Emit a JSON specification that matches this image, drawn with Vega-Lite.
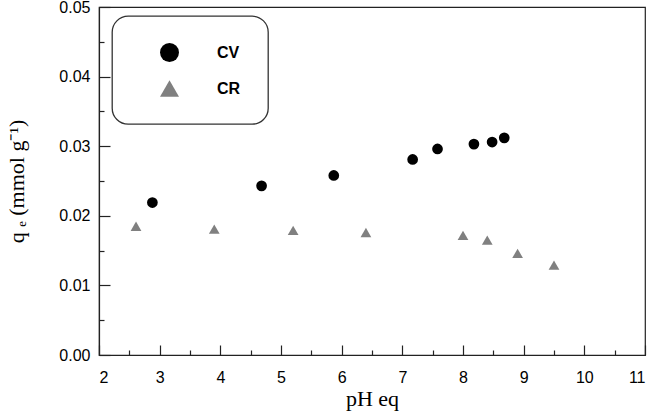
{
  "$schema": "https://vega.github.io/schema/vega-lite/v6.json",
  "width": 546,
  "height": 348,
  "autosize": "none",
  "padding": {"left": 99, "top": 7, "right": 6, "bottom": 61},
  "background": "white",
  "config": {
    "view": {"stroke": "#222", "strokeWidth": 1.2},
    "legend": {"strokeWidth": 1.3},
    "axis": {
      "labelFont": "Liberation Sans",
      "labelFontSize": 16,
      "labelColor": "black",
      "titleFont": "Liberation Serif",
      "titleFontSize": 22,
      "titleFontWeight": "normal",
      "titleColor": "black",
      "domainColor": "#222",
      "domainWidth": 1.2,
      "tickColor": "#222",
      "tickWidth": 1.2,
      "grid": false
    }
  },
  "data": {
    "values": [
      {"pH": 2.88, "qe": 0.0219, "dye": "CV"},
      {"pH": 4.68, "qe": 0.0243, "dye": "CV"},
      {"pH": 5.87, "qe": 0.0258, "dye": "CV"},
      {"pH": 7.17, "qe": 0.0281, "dye": "CV"},
      {"pH": 7.58, "qe": 0.0296, "dye": "CV"},
      {"pH": 8.18, "qe": 0.0303, "dye": "CV"},
      {"pH": 8.48, "qe": 0.0306, "dye": "CV"},
      {"pH": 8.68, "qe": 0.0312, "dye": "CV"},
      {"pH": 2.61, "qe": 0.0185, "dye": "CR"},
      {"pH": 3.90, "qe": 0.0181, "dye": "CR"},
      {"pH": 5.20, "qe": 0.0179, "dye": "CR"},
      {"pH": 6.40, "qe": 0.0176, "dye": "CR"},
      {"pH": 8.00, "qe": 0.0172, "dye": "CR"},
      {"pH": 8.40, "qe": 0.0165, "dye": "CR"},
      {"pH": 8.90, "qe": 0.0146, "dye": "CR"},
      {"pH": 9.50, "qe": 0.0129, "dye": "CR"}
    ]
  },
  "mark": {"type": "point", "filled": true, "opacity": 1, "size": 115},
  "encoding": {
    "x": {
      "field": "pH",
      "type": "quantitative",
      "scale": {"domain": [2, 11], "nice": false, "zero": false},
      "axis": {
        "title": "pH eq",
        "values": [2, 2.5, 3, 3.5, 4, 4.5, 5, 5.5, 6, 6.5, 7, 7.5, 8, 8.5, 9, 9.5, 10, 10.5, 11],
        "labelExpr": "datum.value % 1 == 0 ? format(datum.value, 'd') : ''",
        "tickSize": {"condition": {"test": "datum.value % 1 == 0", "value": -10}, "value": -5},
        "labelPadding": 24,
        "titlePadding": 3
      }
    },
    "y": {
      "field": "qe",
      "type": "quantitative",
      "scale": {"domain": [0, 0.05], "nice": false},
      "axis": {
        "title": "q ₑ (mmol g⁻¹)",
        "values": [0, 0.005, 0.01, 0.015, 0.02, 0.025, 0.03, 0.035, 0.04, 0.045, 0.05],
        "labelExpr": "abs(datum.value*100 - round(datum.value*100)) < 0.001 ? format(datum.value, '.2f') : ''",
        "tickSize": {"condition": {"test": "abs(datum.value*100 - round(datum.value*100)) < 0.001", "value": -11}, "value": -5},
        "labelPadding": 20,
        "titlePadding": 30
      }
    },
    "color": {
      "field": "dye",
      "type": "nominal",
      "scale": {"domain": ["CV", "CR"], "range": ["black", "#808080"]},
      "legend": {
        "title": null,
        "orient": "none",
        "legendX": 13,
        "legendY": 9,
        "strokeColor": "#333",
        "cornerRadius": 16,
        "padding": 27,
        "symbolSize": 361,
        "symbolOffset": 21,
        "symbolStrokeWidth": 0,
        "labelOffset": 38,
        "labelFont": "Liberation Sans",
        "labelFontSize": 16,
        "labelFontWeight": "bold",
        "labelColor": "black",
        "rowPadding": 17
      }
    },
    "shape": {
      "field": "dye",
      "type": "nominal",
      "scale": {"domain": ["CV", "CR"], "range": ["circle", "triangle-up"]}
    }
  }
}
